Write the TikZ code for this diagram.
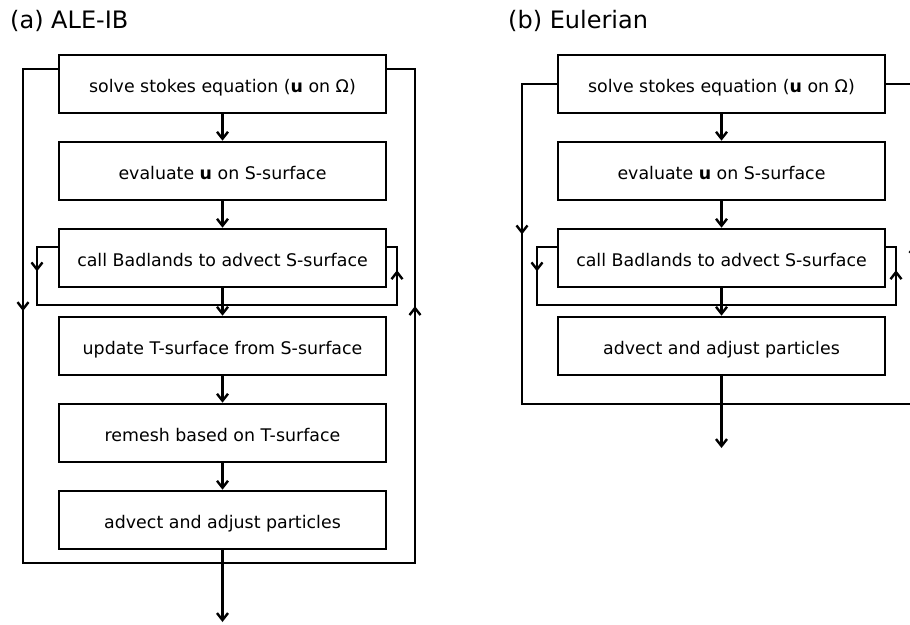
\documentclass[tikz,border=0pt]{standalone}
\usepackage{fontspec}
\setmainfont{DejaVu Sans}
\usetikzlibrary{arrows.meta,calc}
\begin{document}
\begin{tikzpicture}[x=1pt, y=-1pt,
    stepbox/.style={draw, line width=2.6pt, minimum width=327pt, minimum height=58pt,
        inner sep=0pt, text height=17pt, text depth=0pt, font=\fontsize{17.4}{20}\selectfont},
    flow/.style={line width=2.6pt, -{Straight Barb[length=7pt,width=11pt,line width=2.4pt]}},
    loopline/.style={line width=2.6pt},
    paneltitle/.style={anchor=base west, inner sep=0pt, font=\fontsize{24}{28}\selectfont}]
    \useasboundingbox (0,0) rectangle (910,624);
    \clip (0,0) rectangle (910,624);

    % (a) ALE-IB
    \begin{scope}
    \node[paneltitle] (ta) at (10,28) {(a) ALE-IB};
    \node[stepbox] (a1) at (222.5,84)  {solve stokes equation (\textbf{u} on Ω)};
    \node[stepbox] (a2) at (222.5,171) {evaluate \textbf{u} on S-surface};
    \node[stepbox] (a3) at (222.5,258) {call Badlands to advect S-surface};
    \node[stepbox] (a4) at (222.5,346) {update T-surface from S-surface};
    \node[stepbox] (a5) at (222.5,433) {remesh based on T-surface};
    \node[stepbox] (a6) at (222.5,520) {advect and adjust particles};
    \coordinate (aout) at (222.5,622);
    \coordinate (aoTL) at (23,69);  \coordinate (aoBL) at (23,563);
    \coordinate (aoBR) at (415,563); \coordinate (aoTR) at (415,69);
    \coordinate (aiTL) at (37,247);  \coordinate (aiBL) at (37,305);
    \coordinate (aiBR) at (397,305); \coordinate (aiTR) at (397,247);
    \draw[loopline] (a1.west |- aoTL) -- (aoTL) -- (aoBL) -- (aoBR) -- (aoTR) -- (a1.east |- aoTR);
    \draw[loopline] (a3.west |- aiTL) -- (aiTL) -- (aiBL) -- (aiBR) -- (aiTR) -- (a3.east |- aiTR);
    \draw[flow] (aoTL) -- ($(aoTL)!0.49!(aoBL)$);
    \draw[flow] (aoBR) -- ($(aoBR)!0.52!(aoTR)$);
    \draw[flow] (aiTL) -- ($(aiTL)!0.42!(aiBL)$);
    \draw[flow] (aiBR) -- ($(aiBR)!0.6!(aiTR)$);
    \foreach \i/\j in {1/2,2/3,3/4,4/5,5/6}
        \draw[flow] (a\i) -- (a\j);
    \draw[flow] (a6) -- (aout);
    \end{scope}

    % (b) Eulerian
    \begin{scope}
    \node[paneltitle] (tb) at (508,28) {(b) Eulerian};
    \node[stepbox] (b1) at (721.5,84)  {solve stokes equation (\textbf{u} on Ω)};
    \node[stepbox] (b2) at (721.5,171) {evaluate \textbf{u} on S-surface};
    \node[stepbox] (b3) at (721.5,258) {call Badlands to advect S-surface};
    \node[stepbox] (b4) at (721.5,346) {advect and adjust particles};
    \coordinate (bout) at (721.5,448);
    \coordinate (boTL) at (522,84);  \coordinate (boBL) at (522,404);
    \coordinate (boBR) at (915,404); \coordinate (boTR) at (915,84);
    \coordinate (biTL) at (537,247); \coordinate (biBL) at (537,305);
    \coordinate (biBR) at (896,305); \coordinate (biTR) at (896,247);
    \draw[loopline] (b1.west) -- (boTL) -- (boBL) -- (boBR) -- (boTR) -- (b1.east);
    \draw[loopline] (b3.west |- biTL) -- (biTL) -- (biBL) -- (biBR) -- (biTR) -- (b3.east |- biTR);
    \draw[flow] (boTL) -- ($(boTL)!0.47!(boBL)$);
    \draw[flow] (boBR) -- ($(boBR)!0.5!(boTR)$);
    \draw[flow] (biTL) -- ($(biTL)!0.42!(biBL)$);
    \draw[flow] (biBR) -- ($(biBR)!0.6!(biTR)$);
    \foreach \i/\j in {1/2,2/3,3/4}
        \draw[flow] (b\i) -- (b\j);
    \draw[flow] (b4) -- (bout);
    \end{scope}
\end{tikzpicture}
\end{document}
